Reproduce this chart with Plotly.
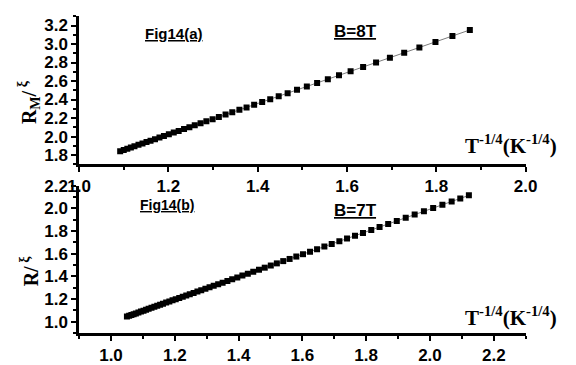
import numpy as np
import plotly.graph_objects as go

# Panel (a): B = 8 T
xa = [1.092, 1.100, 1.108, 1.116, 1.124, 1.133, 1.142, 1.151, 1.160, 1.170,
      1.180, 1.190, 1.201, 1.212, 1.223, 1.235, 1.247, 1.259, 1.272, 1.285,
      1.299, 1.313, 1.328, 1.343, 1.359, 1.375, 1.392, 1.410, 1.428, 1.447,
      1.467, 1.488, 1.510, 1.533, 1.557, 1.582, 1.608, 1.636, 1.665, 1.696,
      1.728, 1.762, 1.798, 1.836, 1.875]
ya = [1.842, 1.855, 1.869, 1.882, 1.896, 1.911, 1.926, 1.941, 1.956, 1.972,
      1.989, 2.006, 2.024, 2.043, 2.061, 2.081, 2.101, 2.121, 2.143, 2.165,
      2.188, 2.212, 2.237, 2.262, 2.289, 2.315, 2.344, 2.374, 2.404, 2.436,
      2.469, 2.505, 2.541, 2.580, 2.620, 2.662, 2.705, 2.752, 2.801, 2.852,
      2.906, 2.963, 3.023, 3.087, 3.152]

# Panel (b): B = 7 T
xb = [1.050, 1.057, 1.064, 1.071, 1.078, 1.086, 1.094, 1.102, 1.110, 1.118,
      1.127, 1.136, 1.145, 1.154, 1.163, 1.173, 1.183, 1.193, 1.203, 1.214,
      1.225, 1.236, 1.247, 1.259, 1.271, 1.283, 1.296, 1.309, 1.322, 1.336,
      1.350, 1.365, 1.380, 1.396, 1.412, 1.429, 1.446, 1.464, 1.482, 1.501,
      1.520, 1.540, 1.560, 1.581, 1.602, 1.624, 1.646, 1.669, 1.692, 1.716,
      1.740, 1.765, 1.790, 1.816, 1.842, 1.869, 1.896, 1.924, 1.952, 1.981,
      2.010, 2.039, 2.068, 2.095, 2.122]
yb = [1.045, 1.052, 1.059, 1.066, 1.073, 1.081, 1.089, 1.097, 1.105, 1.113,
      1.122, 1.131, 1.140, 1.149, 1.158, 1.168, 1.178, 1.188, 1.198, 1.209,
      1.219, 1.230, 1.241, 1.253, 1.265, 1.277, 1.290, 1.303, 1.316, 1.330,
      1.344, 1.359, 1.374, 1.390, 1.406, 1.423, 1.440, 1.458, 1.476, 1.495,
      1.514, 1.534, 1.553, 1.574, 1.595, 1.617, 1.639, 1.662, 1.685, 1.709,
      1.733, 1.758, 1.783, 1.809, 1.835, 1.862, 1.888, 1.916, 1.944, 1.973,
      2.002, 2.031, 2.060, 2.087, 2.114]

W, H = 576, 365
X0, X1 = 70, 536


def dom(p0, p1):
    return [1 - p1 / H, 1 - p0 / H]


fig = go.Figure()

for x, y, xr, yr in [(xa, ya, "x", "y"), (xb, yb, "x2", "y2")]:
    k, b = np.polyfit(x, y, 1)
    fx = np.array([x[0], x[-1]])
    fig.add_trace(go.Scatter(x=fx, y=k * fx + b, mode="lines",
                             line=dict(color="#444", width=0.7),
                             xaxis=xr, yaxis=yr, showlegend=False, hoverinfo="skip"))
    fig.add_trace(go.Scatter(x=x, y=y, mode="markers",
                             marker=dict(symbol="square", size=6, color="black"),
                             xaxis=xr, yaxis=yr, showlegend=False))

tickfont = dict(family="Liberation Sans, Arial", size=17, color="black", weight="bold")
axis_common = dict(showline=True, linecolor="black", linewidth=2.5, ticks="outside",
                   ticklen=5, tickwidth=2, tickcolor="black", showgrid=False,
                   zeroline=False, tickfont=tickfont, mirror=False)
minor = dict(ticks="outside", ticklen=3, tickwidth=2, tickcolor="black", showgrid=False)

fig.update_layout(
    width=W, height=H,
    margin=dict(l=0, r=0, t=0, b=0),
    paper_bgcolor="white", plot_bgcolor="white",
    xaxis=dict(domain=[X0 / W, X1 / W], range=[1.0, 2.0], dtick=0.2, tickformat=".1f",
               anchor="y", minor=dict(dtick=0.1, **minor), **axis_common),
    yaxis=dict(domain=dom(7.5, 160.6), range=[1.7, 3.3], tick0=1.8, dtick=0.2,
               tickformat=".1f", anchor="x", minor=dict(dtick=0.1, **minor), **axis_common),
    xaxis2=dict(domain=[X0 / W, X1 / W], range=[0.9, 2.3], tick0=1.0, dtick=0.2,
                tickformat=".1f", anchor="y2", minor=dict(dtick=0.1, **minor), **axis_common),
    yaxis2=dict(domain=dom(182.6, 335), range=[0.9, 2.2], tick0=1.0, dtick=0.2,
                tickformat=".1f", anchor="x2", minor=dict(dtick=0.1, **minor), **axis_common),
)

serif = "Liberation Serif, Times New Roman"
sans = "Liberation Sans, Arial"


def px(xp, yp):
    return dict(x=xp / W, y=1 - yp / H, xref="paper", yref="paper", showarrow=False,
                xanchor="center", yanchor="middle")


anns = [
    dict(text="<b>R<sub>M</sub>/<sup> ξ</sup></b>", textangle=-90,
         font=dict(family=serif, size=20, color="black"), **px(18, 96)),
    dict(text="<b>R/<sup> ξ</sup></b>", textangle=-90,
         font=dict(family=serif, size=20, color="black"), **px(18, 271)),
    dict(text="<b>T<sup>-1/4</sup>(K<sup>-1/4</sup>)</b>",
         font=dict(family=serif, size=21, color="black"), **px(521, 140)),
    dict(text="<b>T<sup>-1/4</sup>(K<sup>-1/4</sup>)</b>",
         font=dict(family=serif, size=21, color="black"), **px(521, 318)),
    dict(text="<b><u>Fig14(a)</u></b>",
         font=dict(family=sans, size=15, color="black"), **px(169, 25)),
    dict(text="<b><u>B=8T</u></b>",
         font=dict(family=sans, size=17, color="black"), **px(358, 23)),
    dict(text="<b><u>Fig14(b)</u></b>",
         font=dict(family=sans, size=14, color="black"), **px(162, 203)),
    dict(text="<b><u>B=7T</u></b>",
         font=dict(family=sans, size=17, color="black"), **px(358, 208)),
]
fig.update_layout(annotations=anns)

fig.write_html("out.html")
